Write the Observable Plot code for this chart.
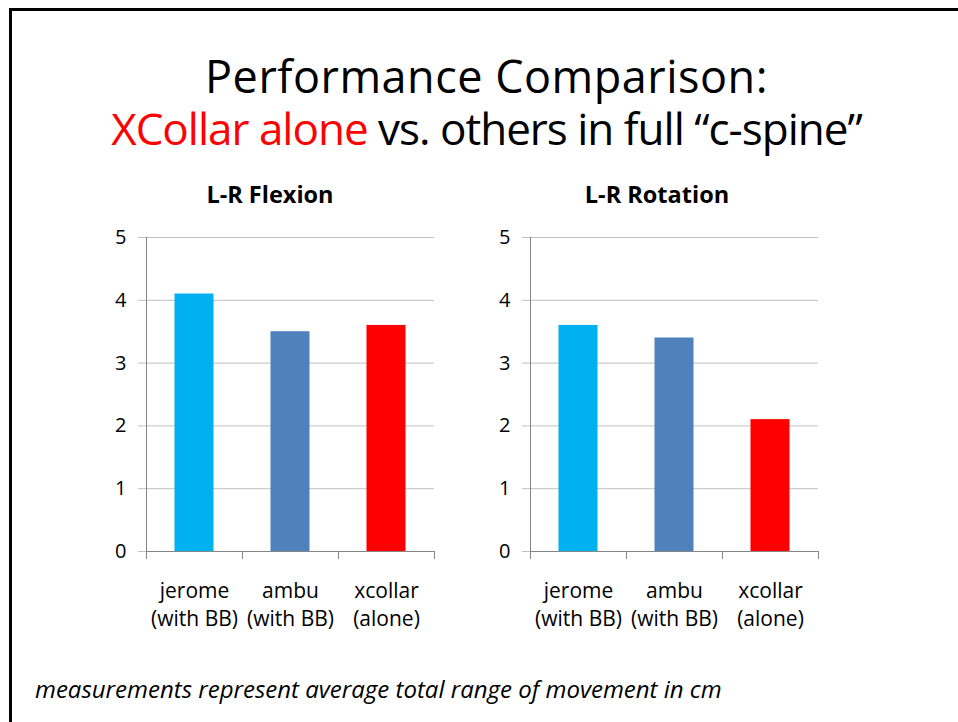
<!DOCTYPE html>
<html><head><meta charset="utf-8">
<script src="https://cdn.jsdelivr.net/npm/d3@7"></script>
<script src="https://cdn.jsdelivr.net/npm/@observablehq/plot@0.6"></script>
<style>
html,body{margin:0;padding:0;background:#fff;}
#page{position:relative;width:958px;height:722px;overflow:hidden;font-family:"Open Sans",sans-serif;color:#000;}
#frame{position:absolute;left:9px;top:8px;right:-10px;bottom:-10px;border-left:3px solid #000;border-top:3px solid #000;}
.t{position:absolute;line-height:1;white-space:nowrap;}
.chart{position:absolute;top:220px;}
</style></head><body>
<div id="page">
  <div id="frame"></div>
  <div class="t" style="left:0;width:973px;text-align:center;top:53px;font-size:45px;letter-spacing:0.5px">Performance Comparison:</div>
  <div class="t" style="left:0;width:973px;text-align:center;top:106px;font-size:44px;letter-spacing:-1px"><span style="color:#ff0000">XCollar alone</span> vs. others in full “c-spine”</div>
  <div class="t" id="t1" style="left:120px;width:300px;text-align:center;top:183px;font-size:23.5px;font-weight:bold"></div>
  <div class="t" id="t2" style="left:507px;width:300px;text-align:center;top:183px;font-size:23.5px;font-weight:bold"></div>
  <div class="chart" id="c1" style="left:90px"></div>
  <div class="chart" id="c2" style="left:474px"></div>
  <div class="t" id="foot" style="left:35px;top:677px;font-size:24px;font-style:italic"></div>
</div>
<script>
const chartTitles = ["L-R Flexion", "L-R Rotation"];
const categories = ["jerome", "ambu", "xcollar"];
const categoryLabels = ["jerome\n(with BB)", "ambu\n(with BB)", "xcollar\n(alone)"];
const flexionValues = [4.1, 3.5, 3.6];
const rotationValues = [3.6, 3.4, 2.1];
const yTicks = [0, 1, 2, 3, 4, 5];
const footnote = "measurements represent average total range of movement in cm";
const barColors = ["#00b0f0", "#4f81bd", "#ff0000"];

function chart(values) {
  const data = categories.map((c, i) => ({i, category: c, label: categoryLabels[i], value: values[i]}));
  return Plot.plot({
    width: 360, height: 420,
    marginLeft: 56, marginRight: 16, marginTop: 17, marginBottom: 89,
    x: {domain: [0, categories.length]},
    y: {domain: [0, 5]},
    color: {domain: categories, range: barColors},
    style: {fontFamily: "'Open Sans', sans-serif", fontSize: "20px", background: "transparent", overflow: "visible", color: "#000"},
    marks: [
      Plot.gridY(yTicks, {stroke: "#bfbfbf", strokeOpacity: 1}),
      Plot.axisY(yTicks, {tickSize: 8, tickPadding: 12, stroke: "#bfbfbf", fill: "#000", fontSize: 20, label: null, tickFormat: d => String(d)}),
      Plot.rectY(data, {x1: "i", x2: d => d.i + 1, y: "value", fill: "category", insetLeft: 28.5, insetRight: 28.5}),
      Plot.ruleX([0], {stroke: "#868686"}),
      Plot.ruleY([0], {stroke: "#868686"}),
      Plot.axisX(d3.range(categories.length + 1), {tickSize: 8, stroke: "#868686", label: null, tickFormat: () => ""}),
      Plot.text(data, {x: d => d.i + 0.5, y: 0, text: "label", lineAnchor: "top", dy: 27, fontSize: 21, lineHeight: 1.32, fill: "#000"})
    ]
  });
}
document.getElementById("t1").textContent = chartTitles[0];
document.getElementById("t2").textContent = chartTitles[1];
document.getElementById("foot").textContent = footnote;
document.getElementById("c1").append(chart(flexionValues));
document.getElementById("c2").append(chart(rotationValues));
</script>
</body></html>
